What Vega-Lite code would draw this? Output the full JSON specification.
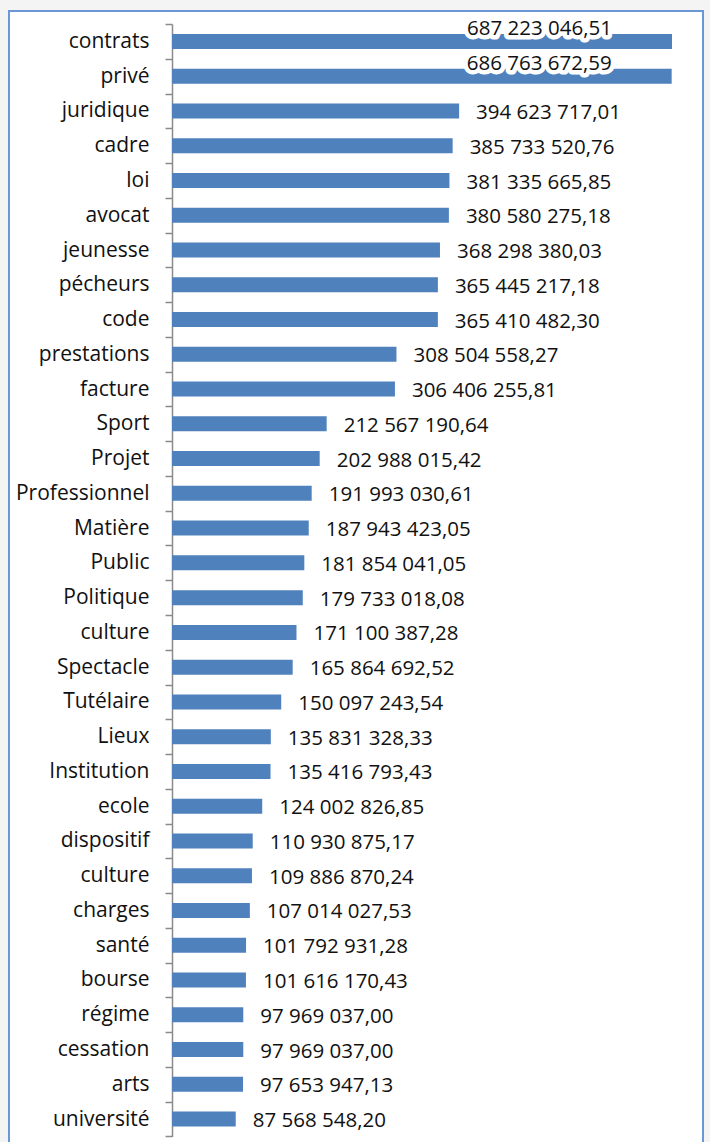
{
  "$schema": "https://vega.github.io/schema/vega-lite/v6.json",
  "autosize": {"type": "none"},
  "width": 694,
  "height": 1140,
  "padding": {"left": 9, "top": 11, "right": 7, "bottom": 0},
  "background": "#f4f4f4",
  "config": {
    "view": {"fill": "white", "stroke": "#6a98d4", "strokeWidth": 2},
    "locale": {"number": {"decimal": ",", "thousands": " ", "grouping": [3], "currency": ["", " €"]}},
    "font": "Open Sans"
  },
  "data": {
    "values": [
      {"term": "contrats", "value": 687223046.51},
      {"term": "privé", "value": 686763672.59},
      {"term": "juridique", "value": 394623717.01},
      {"term": "cadre", "value": 385733520.76},
      {"term": "loi", "value": 381335665.85},
      {"term": "avocat", "value": 380580275.18},
      {"term": "jeunesse", "value": 368298380.03},
      {"term": "pécheurs", "value": 365445217.18},
      {"term": "code", "value": 365410482.30},
      {"term": "prestations", "value": 308504558.27},
      {"term": "facture", "value": 306406255.81},
      {"term": "Sport", "value": 212567190.64},
      {"term": "Projet", "value": 202988015.42},
      {"term": "Professionnel", "value": 191993030.61},
      {"term": "Matière", "value": 187943423.05},
      {"term": "Public", "value": 181854041.05},
      {"term": "Politique", "value": 179733018.08},
      {"term": "culture", "value": 171100387.28},
      {"term": "Spectacle", "value": 165864692.52},
      {"term": "Tutélaire", "value": 150097243.54},
      {"term": "Lieux", "value": 135831328.33},
      {"term": "Institution", "value": 135416793.43},
      {"term": "ecole", "value": 124002826.85},
      {"term": "dispositif", "value": 110930875.17},
      {"term": "culture ", "value": 109886870.24},
      {"term": "charges", "value": 107014027.53},
      {"term": "santé", "value": 101792931.28},
      {"term": "bourse", "value": 101616170.43},
      {"term": "régime", "value": 97969037.00},
      {"term": "cessation", "value": 97969037.00},
      {"term": "arts", "value": 97653947.13},
      {"term": "université", "value": 87568548.20}
    ]
  },
  "encoding": {
    "y": {
      "field": "term",
      "type": "nominal",
      "sort": null,
      "scale": {"range": [13.1, 1125.4], "paddingInner": 0, "paddingOuter": 0},
      "axis": {
        "title": null,
        "offset": -163,
        "tickBand": "extent",
        "tickSize": 7,
        "labelPadding": 16,
        "labelFontSize": 21,
        "labelFont": "Open Sans",
        "labelColor": "#111111",
        "domainColor": "#8a8a8a",
        "tickColor": "#8a8a8a",
        "domainWidth": 1.5,
        "tickWidth": 1.5
      }
    },
    "x": {
      "field": "value",
      "type": "quantitative",
      "scale": {"domain": [0, 687223046.51], "range": [163, 663], "nice": false, "zero": true},
      "axis": null
    }
  },
  "layer": [
    {"mark": {"type": "bar", "size": 15, "color": "#4f81bd"}},
    {
      "transform": [{"filter": "datum.value < 600000000"}],
      "mark": {"type": "text", "align": "left", "baseline": "middle", "dx": 17, "dy": 2, "fontSize": 20.5, "font": "Open Sans", "color": "#111111"},
      "encoding": {"text": {"field": "value", "type": "quantitative", "format": ",.2f"}}
    },
    {
      "transform": [{"filter": "datum.value >= 600000000"}],
      "mark": {"type": "text", "align": "right", "baseline": "middle", "dx": -60, "dy": -12, "fontSize": 20.5, "font": "Open Sans", "color": "white", "stroke": "white", "strokeWidth": 9, "strokeJoin": "round"},
      "encoding": {"text": {"field": "value", "type": "quantitative", "format": ",.2f"}}
    },
    {
      "transform": [{"filter": "datum.value >= 600000000"}],
      "mark": {"type": "text", "align": "right", "baseline": "middle", "dx": -60, "dy": -12, "fontSize": 20.5, "font": "Open Sans", "color": "#111111"},
      "encoding": {"text": {"field": "value", "type": "quantitative", "format": ",.2f"}}
    }
  ]
}
